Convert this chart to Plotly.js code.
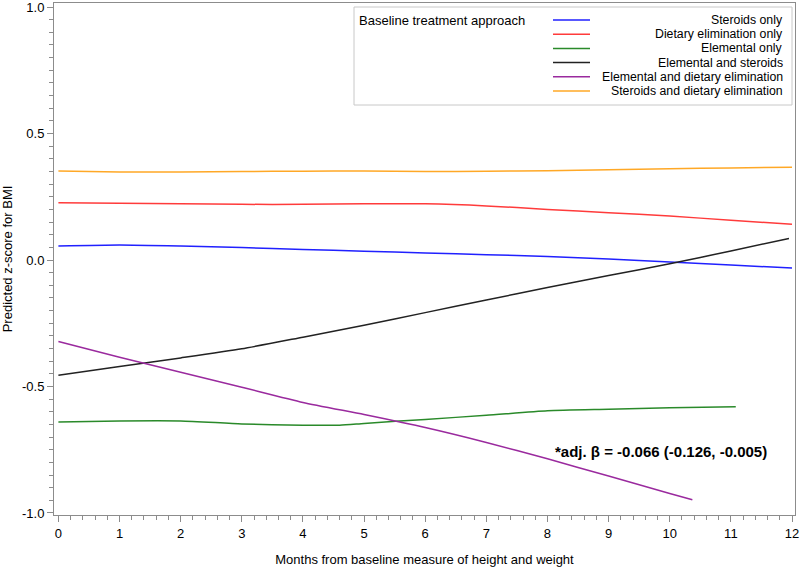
<!DOCTYPE html>
<html>
<head>
<meta charset="utf-8">
<script src="https://cdn.plot.ly/plotly-3.0.1.min.js"></script>
<style>html,body{margin:0;padding:0;background:#fff;}#chart{width:800px;height:568px;}</style>
</head>
<body>
<div id="chart"></div>
<script>
// Series names (legend order) and colours
const seriesNames = ["Steroids only", "Dietary elimination only", "Elemental only", "Elemental and steroids", "Elemental and dietary elimination", "Steroids and dietary elimination"];
const seriesColors = ["#2020ff", "#ff3b3b", "#2a8a2a", "#222222", "#9a2a9e", "#ffa826"];

// Months (x) and predicted BMI z-score (y) per series
const steroidsX = [0,1,2,3,4,5,6,7,8,9,10,11,12];
const steroidsY = [0.055,0.059,0.055,0.049,0.042,0.035,0.028,0.021,0.014,0.004,-0.008,-0.020,-0.032];

const dietaryX = [0,1,2,3,4,5,6,7,8,9,10,11,12];
const dietaryY = [0.226,0.224,0.222,0.220,0.220,0.222,0.222,0.214,0.200,0.187,0.174,0.157,0.141];

const elementalX = [0,1,2,3,4,4.6,5,6,7,8,9,10,11.08];
const elementalY = [-0.640,-0.636,-0.636,-0.648,-0.653,-0.653,-0.646,-0.630,-0.614,-0.596,-0.590,-0.584,-0.580];

const elemSteroidsX = [0,1,2,3,4,5,6,7,8,9,10,11,11.95];
const elemSteroidsY = [-0.456,-0.421,-0.387,-0.351,-0.305,-0.258,-0.208,-0.158,-0.109,-0.061,-0.015,0.036,0.085];

const elemDietaryX = [0,1,2,3,4,5,6,7,8,9,10,10.37];
const elemDietaryY = [-0.322,-0.384,-0.444,-0.503,-0.563,-0.611,-0.662,-0.721,-0.786,-0.854,-0.923,-0.948];

const steroidsDietaryX = [0,1,2,3,4,5,6,7,8,9,10,11,12];
const steroidsDietaryY = [0.352,0.348,0.348,0.350,0.351,0.352,0.350,0.351,0.353,0.357,0.361,0.364,0.367];

const allX = [steroidsX, dietaryX, elementalX, elemSteroidsX, elemDietaryX, steroidsDietaryX];
const allY = [steroidsY, dietaryY, elementalY, elemSteroidsY, elemDietaryY, steroidsDietaryY];

const xTickVals = [0,1,2,3,4,5,6,7,8,9,10,11,12];
const yTickVals = [-1.0,-0.5,0.0,0.5,1.0];
const yTickText = ["-1.0","-0.5","0.0","0.5","1.0"];

const legendTitle = "Baseline treatment approach";
const betaText = "*adj. β = -0.066 (-0.126, -0.005)";

const FONT = "Liberation Sans, Arial, sans-serif";

const traces = seriesNames.map((n, i) => ({
  type: "scatter", mode: "lines", name: n,
  x: allX[i], y: allY[i],
  line: {color: seriesColors[i], width: 1.5, shape: "spline", smoothing: 0.6},
  showlegend: false, hoverinfo: "skip"
}));

// Custom legend (right-aligned labels like the original)
const L = 54, T = 3, PW = 741, PH = 512;
const px2x = p => (p - L) / PW;
const py2y = p => 1 - (p - T) / PH;
const shapes = [{
  type: "rect", xref: "paper", yref: "paper",
  x0: px2x(354), x1: px2x(792), y0: py2y(105), y1: py2y(7),
  line: {color: "#c8c8c8", width: 1}, fillcolor: "rgba(255,255,255,1)", layer: "below"
}];
const annotations = [{
  xref: "paper", yref: "paper", x: px2x(357), y: py2y(20),
  xanchor: "left", yanchor: "middle", showarrow: false,
  text: legendTitle, font: {family: FONT, size: 13, color: "#000"}
}];
seriesNames.forEach((n, i) => {
  const py = 20 + i * 14.2;
  shapes.push({type: "line", xref: "paper", yref: "paper",
    x0: px2x(553), x1: px2x(590), y0: py2y(py), y1: py2y(py),
    line: {color: seriesColors[i], width: 1.5}});
  annotations.push({xref: "paper", yref: "paper", x: px2x(785), y: py2y(py),
    xanchor: "right", yanchor: "middle", showarrow: false,
    text: n, font: {family: FONT, size: 12.3, color: "#000"}});
});
annotations.push({
  xref: "x", yref: "y", x: 9.85, y: -0.757, xanchor: "center", yanchor: "middle",
  showarrow: false, text: "<b>" + betaText + "</b>",
  font: {family: FONT, size: 15, color: "#000"}
});

const axisCommon = {
  showline: true, mirror: true, linecolor: "#8c8c8c", linewidth: 1,
  ticks: "outside", ticklen: 6, tickcolor: "#8c8c8c", tickwidth: 1,
  showgrid: false, zeroline: false, ticklabeloverflow: "allow",
  tickfont: {family: FONT, size: 13, color: "#000"}
};

const layout = {
  width: 800, height: 568,
  margin: {l: 54, r: 5, t: 3, b: 53},
  paper_bgcolor: "#fff", plot_bgcolor: "#fff",
  font: {family: FONT, size: 12, color: "#000"},
  xaxis: Object.assign({}, axisCommon, {
    range: [-0.072, 12.049], tickmode: "array", tickvals: xTickVals,
    minor: {dtick: 0.2, ticks: "outside", ticklen: 4, tickcolor: "#8c8c8c", showgrid: false},
    title: {text: "Months from baseline measure of height and weight", font: {family: FONT, size: 13, color: "#000"}, standoff: 15}
  }),
  yaxis: Object.assign({}, axisCommon, {
    range: [-1.008, 1.016], tickmode: "array", tickvals: yTickVals, ticktext: yTickText,
    minor: {dtick: 0.05, ticks: "outside", ticklen: 4, tickcolor: "#8c8c8c", showgrid: false},
    title: {text: "Predicted z-score for BMI", font: {family: FONT, size: 13, color: "#000"}, standoff: 12}
  }),
  shapes: shapes,
  annotations: annotations,
  showlegend: false
};

Plotly.newPlot("chart", traces, layout, {displayModeBar: false, staticPlot: true});
</script>
</body>
</html>
